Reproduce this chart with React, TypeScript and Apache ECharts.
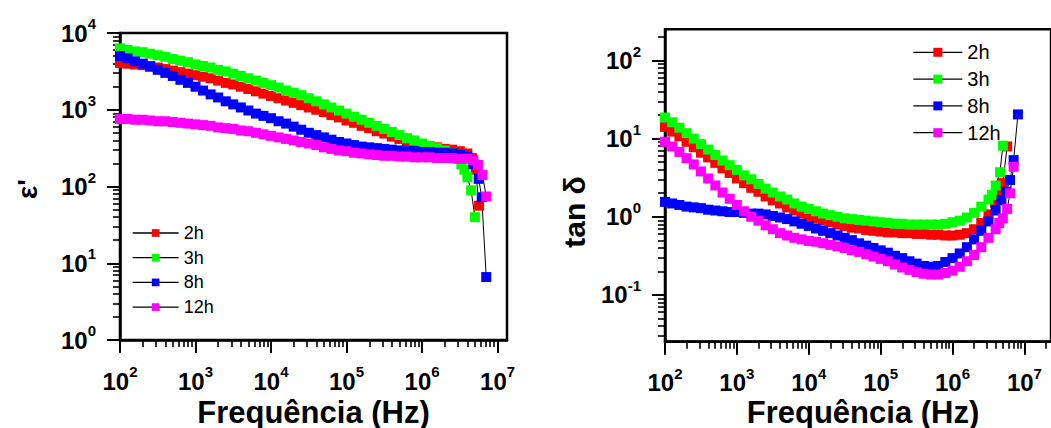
import React, { useEffect, useRef } from 'react';
import * as echarts from 'echarts';

const FONT = '"Liberation Sans", Arial, Helvetica, sans-serif';

const seriesNames = ['2h', '3h', '8h', '12h'];
const seriesColors = ['#ff0000', '#00ff00', '#0000ff', '#ff00ff'];

// log10 of frequency (Hz) for the densely measured part
const logFreq = [
  2.0, 2.1, 2.2, 2.3, 2.4, 2.5, 2.6, 2.7, 2.8, 2.9,
  3.0, 3.1, 3.2, 3.3, 3.4, 3.5, 3.6, 3.7, 3.8, 3.9,
  4.0, 4.1, 4.2, 4.3, 4.4, 4.5, 4.6, 4.7, 4.8, 4.9,
  5.0, 5.1, 5.2, 5.3, 5.4, 5.5, 5.6, 5.7, 5.8, 5.9,
  6.0, 6.1, 6.2, 6.3, 6.4, 6.5, 6.6,
];

// ---- left panel: log10(ε') ----
const eps2h = [
  3.61, 3.60, 3.59, 3.58, 3.57, 3.55, 3.53, 3.51, 3.49, 3.47,
  3.45, 3.43, 3.41, 3.38, 3.35, 3.33, 3.30, 3.27, 3.24, 3.21,
  3.18, 3.15, 3.12, 3.09, 3.06, 3.03, 3.00, 2.97, 2.93, 2.90,
  2.86, 2.83, 2.79, 2.76, 2.72, 2.69, 2.65, 2.62, 2.59, 2.57,
  2.54, 2.52, 2.51, 2.49, 2.48, 2.46, 2.43,
];
const eps2hTailF = [6.66, 6.71, 6.755];
const eps2hTail = [2.37, 2.22, 1.75];

const eps3h = [
  3.80, 3.78, 3.76, 3.75, 3.73, 3.71, 3.69, 3.66, 3.64, 3.62,
  3.59, 3.57, 3.55, 3.52, 3.50, 3.47, 3.44, 3.41, 3.38, 3.35,
  3.32, 3.29, 3.25, 3.22, 3.19, 3.15, 3.11, 3.07, 3.03, 2.99,
  2.95, 2.91, 2.87, 2.83, 2.79, 2.75, 2.71, 2.67, 2.63, 2.60,
  2.56, 2.53, 2.50, 2.47, 2.43,
];
const eps3hTailF = [6.47, 6.52, 6.56, 6.60, 6.65, 6.70];
const eps3hTail = [2.36, 2.29, 2.22, 2.12, 1.95, 1.60];

const eps8h = [
  3.70, 3.67, 3.63, 3.60, 3.56, 3.52, 3.48, 3.44, 3.39, 3.35,
  3.30, 3.25, 3.20, 3.16, 3.11, 3.07, 3.03, 2.99, 2.95, 2.92,
  2.89, 2.85, 2.82, 2.78, 2.74, 2.70, 2.67, 2.64, 2.61, 2.58,
  2.56, 2.54, 2.52, 2.51, 2.50, 2.49, 2.48, 2.47, 2.46, 2.46,
  2.45, 2.45, 2.44, 2.44, 2.43, 2.42, 2.39,
];
const eps8hTailF = [6.68, 6.75, 6.79, 6.85];
const eps8hTail = [2.29, 2.10, 1.86, 0.82];

const eps12h = [
  2.88, 2.88, 2.87, 2.87, 2.86, 2.85, 2.85, 2.84, 2.83, 2.82,
  2.81, 2.80, 2.79, 2.77, 2.76, 2.75, 2.73, 2.72, 2.70, 2.68,
  2.66, 2.64, 2.62, 2.60, 2.58, 2.56, 2.54, 2.51, 2.49, 2.47,
  2.46, 2.44, 2.43, 2.42, 2.41, 2.40, 2.40, 2.39, 2.39, 2.38,
  2.38, 2.38, 2.37, 2.37, 2.37, 2.36, 2.36,
];
const eps12hTailF = [6.68, 6.74, 6.80, 6.85];
const eps12hTail = [2.34, 2.28, 2.15, 1.87];

// ---- right panel: log10(tan δ) ----
const tan2h = [
  1.15, 1.09, 1.03, 0.96, 0.89, 0.82, 0.76, 0.69, 0.62, 0.56,
  0.49, 0.43, 0.37, 0.32, 0.26, 0.21, 0.17, 0.12, 0.08, 0.04,
  0.01, -0.02, -0.05, -0.07, -0.10, -0.12, -0.14, -0.15, -0.17, -0.18,
  -0.19, -0.20, -0.20, -0.21, -0.21, -0.22, -0.22, -0.23, -0.23, -0.24,
  -0.24, -0.23, -0.21, -0.16, -0.08, 0.03,
];
const tan2hTailF = [6.59, 6.64, 6.70, 6.76];
const tan2hTail = [0.18, 0.30, 0.43, 0.90];

const tan3h = [
  1.27, 1.21, 1.14, 1.07, 1.00, 0.93, 0.86, 0.79, 0.72, 0.66,
  0.60, 0.53, 0.48, 0.42, 0.36, 0.31, 0.26, 0.22, 0.17, 0.13,
  0.10, 0.07, 0.04, 0.02, 0.00, -0.02, -0.03, -0.04, -0.05, -0.06,
  -0.07, -0.08, -0.09, -0.09, -0.10, -0.10, -0.10, -0.10, -0.10, -0.09,
  -0.07, -0.05, -0.01, 0.05, 0.13, 0.22,
];
const tan3hTailF = [6.55, 6.60, 6.66, 6.70];
const tan3hTail = [0.28, 0.40, 0.57, 0.91];

const tan8h = [
  0.19, 0.17, 0.15, 0.13, 0.12, 0.11, 0.09, 0.08, 0.07, 0.06,
  0.06, 0.05, 0.04, 0.04, 0.03, 0.01, -0.01, -0.03, -0.06, -0.09,
  -0.12, -0.15, -0.18, -0.21, -0.24, -0.27, -0.30, -0.34, -0.37, -0.40,
  -0.43, -0.46, -0.50, -0.53, -0.57, -0.60, -0.63, -0.64, -0.63, -0.58,
  -0.53, -0.47, -0.39, -0.29, -0.18, -0.06, 0.08,
];
const tan8hTailF = [6.68, 6.75, 6.80, 6.85, 6.91];
const tan8hTail = [0.21, 0.32, 0.47, 0.725, 1.31];

const tan12h = [
  0.96, 0.90, 0.83, 0.75, 0.67, 0.58, 0.49, 0.40, 0.31, 0.23,
  0.15, 0.07, 0.00, -0.05, -0.11, -0.16, -0.21, -0.24, -0.27, -0.29,
  -0.31, -0.32, -0.34, -0.36, -0.38, -0.40, -0.43, -0.45, -0.48, -0.51,
  -0.54, -0.57, -0.61, -0.65, -0.68, -0.71, -0.73, -0.74, -0.74, -0.72,
  -0.69, -0.64, -0.57, -0.49, -0.39, -0.27, -0.16,
];
const tan12hTailF = [6.65, 6.70, 6.76, 6.80, 6.85];
const tan12hTail = [-0.08, -0.02, 0.10, 0.30, 0.64];

// tick exponents
const xMajor = [2, 3, 4, 5, 6, 7];
const leftYMajor = [0, 1, 2, 3, 4];
const rightYMajor = [-1, 0, 1, 2];

const LEFT_X = [2, 7.125];
const RIGHT_X = [2, 7.37];
const LEFT_Y = [0, 4];
const RIGHT_Y = [-1.6, 2.4];

function minorTicks(lo: number, hi: number): number[] {
  const out: number[] = [];
  for (let n = Math.floor(lo); n < hi; n++) {
    for (let k = 2; k <= 9; k++) {
      const v = n + Math.log10(k);
      if (v > lo && v < hi) out.push(v);
    }
  }
  return out;
}

function pairs(vals: number[], tailF: number[], tailV: number[]) {
  return vals
    .map((v, i) => [logFreq[i], v])
    .concat(tailF.map((f, i) => [f, tailV[i]]));
}

const rich = {
  b: { fontFamily: FONT, fontSize: 24, fontWeight: 'bold', color: '#000', lineHeight: 34 },
  s: { fontFamily: FONT, fontSize: 15, fontWeight: 'bold', color: '#000', lineHeight: 15, verticalAlign: 'top' },
};
const fmt = (v: number) => `{b|10}{s|${Math.round(v)}}`;

function majorX(gridIndex: number, range: number[]) {
  return {
    type: 'value', gridIndex, min: range[0], max: range[1], position: 'bottom',
    axisLine: { show: true, onZero: false, lineStyle: { color: '#000', width: 2.5 } },
    axisTick: { show: true, inside: false, length: 13, customValues: xMajor, lineStyle: { color: '#000', width: 2 } },
    axisLabel: { show: true, customValues: xMajor, formatter: fmt, rich, margin: 24 },
    splitLine: { show: false },
  };
}
function minorX(gridIndex: number, range: number[]) {
  return {
    type: 'value', gridIndex, min: range[0], max: range[1], position: 'bottom',
    axisLine: { show: false, onZero: false },
    axisTick: { show: true, inside: false, length: 7, customValues: minorTicks(range[0], range[1]), lineStyle: { color: '#000', width: 1.6 } },
    axisLabel: { show: false },
    splitLine: { show: false },
  };
}
function majorY(gridIndex: number, range: number[], ticks: number[]) {
  return {
    type: 'value', gridIndex, min: range[0], max: range[1], position: 'left',
    axisLine: { show: true, onZero: false, lineStyle: { color: '#000', width: 2.5 } },
    axisTick: { show: true, inside: false, length: 13, customValues: ticks, lineStyle: { color: '#000', width: 2 } },
    axisLabel: { show: true, customValues: ticks, formatter: fmt, rich, margin: 24 },
    splitLine: { show: false },
  };
}
function minorY(gridIndex: number, range: number[]) {
  return {
    type: 'value', gridIndex, min: range[0], max: range[1], position: 'left',
    axisLine: { show: false, onZero: false },
    axisTick: { show: true, inside: false, length: 7, customValues: minorTicks(range[0], range[1]), lineStyle: { color: '#000', width: 1.6 } },
    axisLabel: { show: false },
    splitLine: { show: false },
  };
}

function makeSeries(name: string, color: string, data: number[][], axisIndex: number) {
  return {
    type: 'line', name, data, xAxisIndex: axisIndex, yAxisIndex: axisIndex,
    symbol: 'rect', symbolSize: 10, showAllSymbol: true,
    itemStyle: { color },
    lineStyle: { color: '#000', width: 1 },
    silent: true,
    emphasis: { disabled: true },
  };
}

const nameText = (text: string, x: number, y: number, size: number, rotation = 0) => ({
  type: 'text', x, y, rotation, silent: true,
  style: { text, fontFamily: FONT, fontSize: size, fontWeight: 'bold', fill: '#000', align: 'center', verticalAlign: 'middle' },
});

export default function App() {
  const ref = useRef<HTMLDivElement>(null);
  useEffect(() => {
    if (!ref.current) return;
    const chart = echarts.init(ref.current, null, { renderer: 'svg' });
    const leftData = [
      pairs(eps2h, eps2hTailF, eps2hTail),
      pairs(eps3h, eps3hTailF, eps3hTail),
      pairs(eps8h, eps8hTailF, eps8hTail),
      pairs(eps12h, eps12hTailF, eps12hTail),
    ];
    const rightData = [
      pairs(tan2h, tan2hTailF, tan2hTail),
      pairs(tan3h, tan3hTailF, tan3hTail),
      pairs(tan8h, tan8hTailF, tan8hTail),
      pairs(tan12h, tan12hTailF, tan12hTail),
    ];
    const series: any[] = [];
    seriesNames.forEach((n, i) => series.push(makeSeries(n, seriesColors[i], leftData[i], 0)));
    seriesNames.forEach((n, i) => series.push(makeSeries(n, seriesColors[i], rightData[i], 2)));

    chart.setOption({
      animation: false,
      backgroundColor: '#fff',
      grid: [
        { left: 120, top: 33, width: 387, height: 307, show: true, borderColor: '#000', borderWidth: 2.5, backgroundColor: 'transparent' },
        { left: 665, top: 29.3, width: 400, height: 312.4, show: true, borderColor: '#000', borderWidth: 2.5, backgroundColor: 'transparent' },
      ],
      xAxis: [majorX(0, LEFT_X), minorX(0, LEFT_X), majorX(1, RIGHT_X), minorX(1, RIGHT_X)],
      yAxis: [majorY(0, LEFT_Y, leftYMajor), minorY(0, LEFT_Y), majorY(1, RIGHT_Y, rightYMajor), minorY(1, RIGHT_Y)],
      legend: [
        {
          data: seriesNames, orient: 'vertical', left: 132, top: 224, padding: 0,
          itemWidth: 46, itemHeight: 9.6, itemGap: 6.7, selectedMode: false,
          lineStyle: { width: 1.3 },
          textStyle: { fontFamily: FONT, fontSize: 18, color: '#000' },
        },
        {
          data: seriesNames, orient: 'vertical', left: 912.7, top: 42.3, padding: 0,
          itemWidth: 49, itemHeight: 11.25, itemGap: 6.8, selectedMode: false,
          lineStyle: { width: 1.3 },
          textStyle: { fontFamily: FONT, fontSize: 20, color: '#000' },
        },
      ],
      graphic: [
        nameText("ε'", 27.5, 189, 28, Math.PI / 2),
        nameText('tan δ', 574.5, 212, 30, Math.PI / 2),
        nameText('Frequência (Hz)', 313.5, 412, 31),
        nameText('Frequência (Hz)', 863, 412, 31),
      ],
      series,
    });
    return () => chart.dispose();
  }, []);
  return <div ref={ref} style={{ position: 'absolute', left: 0, top: 0, width: 1051, height: 428 }} />;
}
